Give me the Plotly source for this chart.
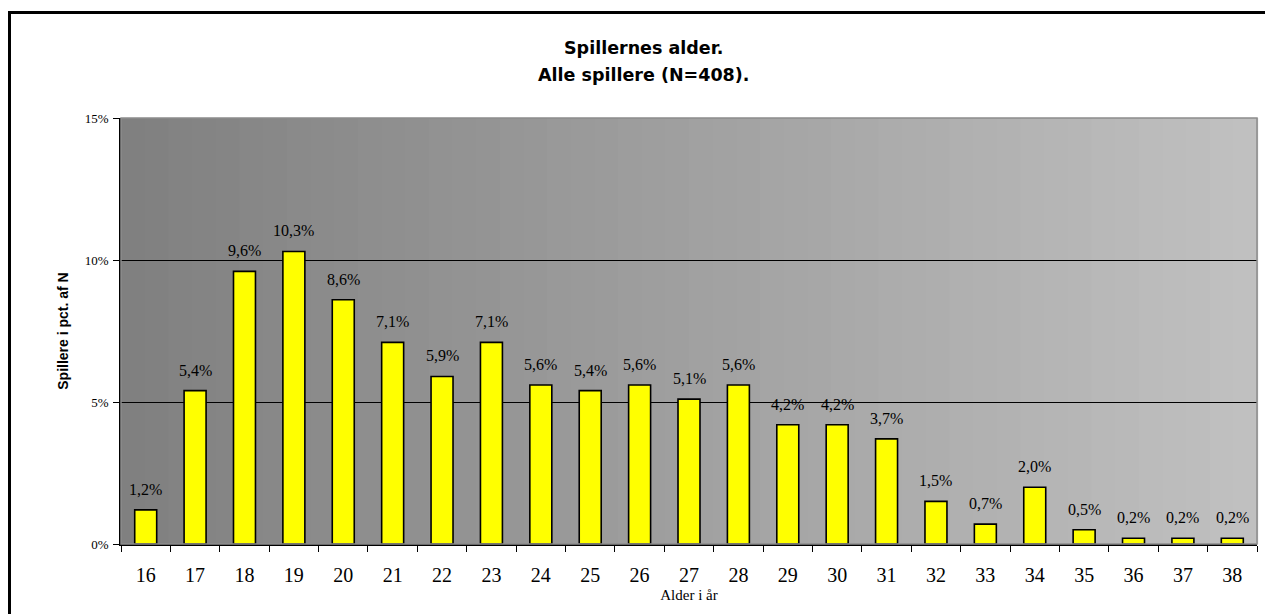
import plotly.graph_objects as go

ages = [str(a) for a in range(16, 39)]
pct = [1.2, 5.4, 9.6, 10.3, 8.6, 7.1, 5.9, 7.1, 5.6, 5.4, 5.6, 5.1, 5.6,
       4.2, 4.2, 3.7, 1.5, 0.7, 2.0, 0.5, 0.2, 0.2, 0.2]
y_ticks = [0, 5, 10, 15]
y_ticktext = ["0%", "5%", "10%", "15%"]
title_lines = ["Spillernes alder.", "Alle spillere (N=408)."]
x_title = "Alder i år"
y_title = "Spillere i pct. af N"

W, H = 1265, 614
ML, MR, MT, MB = 121, 8, 118, 70
PW, PH = W - ML - MR, H - MT - MB


def px_x(px):
    """screen pixel x -> paper coordinate"""
    return (px - ML) / PW


def px_y(py):
    return (H - MB - py) / PH


labels = [f"{v:.1f}".replace(".", ",") + "%" for v in pct]

fig = go.Figure()
fig.add_trace(go.Bar(
    x=ages, y=pct,
    marker=dict(color="#ffff00", line=dict(color="#000000", width=1.6)),
    hoverinfo="skip",
))

shapes = []
n = 48
for i in range(n):
    g = int(round(128 + (192 - 128) * i / (n - 1)))
    shapes.append(dict(type="rect", xref="x domain", yref="y domain",
                       x0=i / n, x1=(i + 1) / n + 0.001, y0=0, y1=1,
                       fillcolor=f"rgb({g},{g},{g})", line=dict(width=0),
                       layer="below"))
# plot-area border (gray)
shapes.append(dict(type="rect", xref="paper", yref="paper", x0=0, x1=1, y0=0, y1=1,
                   line=dict(color="#8c8c8c", width=1.5), layer="above"))
# outer chart border
shapes.append(dict(type="rect", xref="paper", yref="paper",
                   x0=px_x(9.5), x1=px_x(1290), y0=px_y(640), y1=px_y(12.5),
                   line=dict(color="#000000", width=3), layer="above"))

annotations = []
for i, (v, t) in enumerate(zip(pct, labels)):
    annotations.append(dict(x=i, y=v, xref="x", yref="y", text=t, showarrow=False,
                            yanchor="bottom", yshift=10,
                            font=dict(family="Liberation Serif", size=16, color="#000")))
for line, py in zip(title_lines, [48, 75]):
    annotations.append(dict(x=px_x(643), y=px_y(py), xref="paper", yref="paper",
                            text=f"<b>{line}</b>", showarrow=False,
                            xanchor="center", yanchor="middle",
                            font=dict(family="DejaVu Sans", size=17.5, color="#000")))

fig.update_layout(
    width=W, height=H,
    margin=dict(l=ML, r=MR, t=MT, b=MB, pad=0),
    paper_bgcolor="#ffffff", plot_bgcolor="#a0a0a0",
    bargap=0.555, showlegend=False,
    shapes=shapes, annotations=annotations,
    xaxis=dict(
        type="category", showline=True, linecolor="#000", linewidth=1.5,
        ticks="outside", ticklen=6, tickcolor="#000", tickwidth=1.2,
        tickson="boundaries", showgrid=False, tickangle=0,
        tickfont=dict(family="Liberation Serif", size=20, color="#000"),
        ticklabelstandoff=12,
        title=dict(text=x_title, standoff=5,
                   font=dict(family="Liberation Serif", size=15, color="#000")),
    ),
    yaxis=dict(
        range=[0, 15], tickvals=y_ticks, ticktext=y_ticktext,
        showline=True, linecolor="#000", linewidth=1.5,
        ticks="outside", ticklen=6, tickcolor="#000", tickwidth=1.2,
        showgrid=True, gridcolor="#000", gridwidth=1, zeroline=False,
        tickfont=dict(family="Liberation Serif", size=13, color="#000"),
        ticklabelstandoff=2,
        title=dict(text=f"<b>{y_title}</b>", standoff=13,
                   font=dict(family="Liberation Sans", size=14, color="#000")),
    ),
)

fig.write_html(
    "out.html",
    config={"displayModeBar": False},
    post_script="document.body.style.margin='0';document.body.style.overflow='hidden';",
)
